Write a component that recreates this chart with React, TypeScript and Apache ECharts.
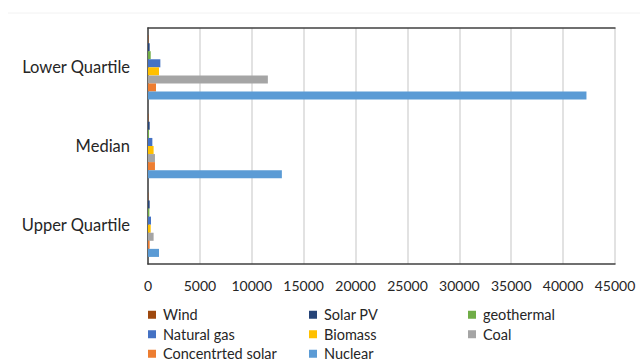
import React, { useEffect, useRef } from "react";
import * as echarts from "echarts";

// Quartile categories, top to bottom
const categories = ["Lower Quartile", "Median", "Upper Quartile"];

// Values per technology, in category order
const wind = [40, 40, 30];
const solarPV = [160, 160, 160];
const geothermal = [260, 100, 130];
const naturalGas = [1190, 420, 290];
const biomass = [1060, 540, 260];
const coal = [11550, 670, 540];
const concentratedSolar = [770, 670, 160];
const nuclear = [42250, 12900, 1060];

const xTicks = { min: 0, max: 45000, interval: 5000 };

const seriesDefs = [
  { name: "Wind", data: wind, color: "#9E480E" },
  { name: "Solar PV", data: solarPV, color: "#264478" },
  { name: "geothermal", data: geothermal, color: "#70AD47" },
  { name: "Natural gas", data: naturalGas, color: "#4472C4" },
  { name: "Biomass", data: biomass, color: "#FFC000" },
  { name: "Coal", data: coal, color: "#A5A5A5" },
  { name: "Concentrted solar", data: concentratedSolar, color: "#ED7D31" },
  { name: "Nuclear", data: nuclear, color: "#5B9BD5" },
];

const legendColumns = [
  ["Wind", "Natural gas", "Concentrted solar"],
  ["Solar PV", "Biomass", "Nuclear"],
  ["geothermal", "Coal"],
];
const legendLefts = [148, 309, 468];

const FONT = "Lato";
const TEXT = "#262626";

export default function App() {
  const ref = useRef<HTMLDivElement>(null);

  useEffect(() => {
    if (!ref.current) return;
    document.body.style.margin = "0";
    document.body.style.overflow = "hidden";
    const chart = echarts.init(ref.current, undefined, { renderer: "svg" });

    chart.setOption({
      animation: false,
      backgroundColor: "#ffffff",
      textStyle: { fontFamily: FONT },
      grid: { left: 148, right: 25, top: 28, bottom: 99 },
      graphic: [
        {
          type: "line",
          shape: { x1: 8, y1: 13, x2: 640, y2: 13 },
          style: { stroke: "#f2f2f2", lineWidth: 1 },
          silent: true,
        },
      ],
      legend: legendColumns.map((col, i) => ({
        orient: "vertical",
        left: legendLefts[i],
        top: 305,
        width: 160,
        height: 70,
        data: col,
        icon: "rect",
        itemWidth: 8,
        itemHeight: 8,
        itemGap: 0,
        padding: 0,
        textStyle: {
          fontFamily: FONT,
          fontSize: 14.5,
          color: TEXT,
          lineHeight: 19.5,
          padding: [0, 0, 0, 2],
        },
      })),
      xAxis: [
        {
          type: "value",
          position: "bottom",
          ...xTicks,
          axisLine: { show: true, lineStyle: { color: "#404040", width: 1.5 } },
          axisTick: { show: false },
          splitLine: { show: true, lineStyle: { color: "#d9d9d9", width: 1.5 } },
          axisLabel: {
            fontFamily: FONT,
            fontSize: 14,
            color: TEXT,
            margin: 14,
            formatter: (v: number) => String(v),
          },
        },
        {
          type: "value",
          position: "top",
          ...xTicks,
          axisLine: { show: true, lineStyle: { color: "#404040", width: 1.5 } },
          axisTick: { show: false },
          splitLine: { show: false },
          axisLabel: { show: false },
        },
      ],
      yAxis: [
        {
          type: "category",
          data: categories,
          inverse: true,
          position: "left",
          axisLine: { show: true, lineStyle: { color: "#d9d9d9", width: 1.5 } },
          axisTick: { show: false },
          axisLabel: {
            fontFamily: FONT,
            fontSize: 16.5,
            color: TEXT,
            margin: 18,
          },
        },
        {
          type: "category",
          data: categories,
          inverse: true,
          position: "right",
          axisLine: { show: true, lineStyle: { color: "#404040", width: 1.5 } },
          axisTick: { show: false },
          axisLabel: { show: false },
        },
      ],
      series: seriesDefs.map((s) => ({
        name: s.name,
        type: "bar",
        data: s.data,
        xAxisIndex: 0,
        yAxisIndex: 0,
        barGap: "0%",
        barCategoryGap: "18%",
        itemStyle: { color: s.color },
      })),
    });

    return () => chart.dispose();
  }, []);

  return <div ref={ref} style={{ width: 640, height: 363 }} />;
}
